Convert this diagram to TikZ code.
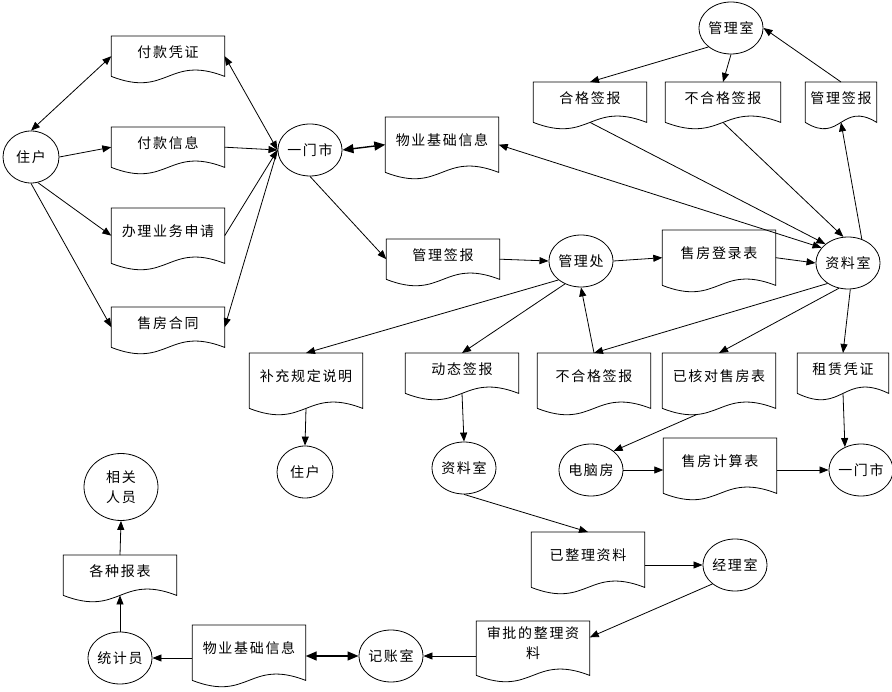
\documentclass[tikz,border=0pt]{standalone}
\usepackage{fontspec}
\setmainfont[LetterSpace=12]{Noto Sans CJK SC}
\usepackage{tikz}
\usetikzlibrary{arrows.meta,calc,shapes.geometric}

\begin{document}
\begin{tikzpicture}[x=1pt, y=-1pt,
  font=\fontsize{14}{20}\selectfont,
  proc/.style={ellipse, draw, line width=0.8pt, minimum width=56pt, minimum height=52pt, inner sep=0pt},
  docS/.style={minimum width=#1, inner sep=0pt, anchor=north, text height=21pt, text depth=19pt},
  docS/.default=113pt,
  docT/.style={minimum width=#1, inner sep=0pt, anchor=north, text height=28pt, text depth=27pt},
  docT/.default=113pt,
  docline/.style={line width=0.8pt},
  arr/.style={-{Triangle[length=9pt,width=7pt]}, line width=0.8pt},
  darr/.style={{Triangle[length=9pt,width=7pt]}-{Triangle[length=9pt,width=7pt]}, line width=0.8pt},
  bigarr/.style={{Triangle[length=11pt,width=9pt]}-{Triangle[length=11pt,width=9pt]}, line width=1.4pt}]
  \useasboundingbox (0,0) rectangle (892,692);

  % left column
  \node[proc] (zhuhu) at (31,157) {住户};
  \node[docS] (fkpz) at (168,36) {付款凭证};
  \node[docS] (fkxx) at (168,127) {付款信息};
  \node[docT] (blsq) at (168,208) {办理业务申请};
  \node[docS] (sfht) at (168,307) {售房合同};
  \node[proc] (ymshi) at (310,150) {一门市};
  \node[docT] (wyxx) at (442,117) {物业基础信息};

  % top right
  \node[proc] (glshi) at (731,28) {管理室};
  \node[docS] (hgqb) at (590,82) {合格签报};
  \node[docS=115pt] (bhqb) at (723,82) {不合格签报};
  \node[docS=71pt] (glqb) at (841,82) {管理签报};
  \node[docS] (glqb2) at (443,239) {管理签报};
  \node[proc] (glchu) at (581,261) {管理处};
  \node[docT] (sfdl) at (719,230) {售房登录表};
  \node[proc] (zlshi) at (848,263) {资料室};

  % middle row
  \node[docT] (bcsm) at (306,353) {补充规定说明};
  \node[docS] (dtqb) at (462,353) {动态签报};
  \node[docT] (bhqb2) at (594,353) {不合格签报};
  \node[docT] (yhsf) at (719,353) {已核对售房表};
  \node[docS=91pt] (zlpz) at (843,353) {租赁凭证};
  \node[proc] (zhuhu2) at (305,472) {住户};
  \node[proc] (zlshi2) at (464,468) {资料室};
  \node[proc] (dnf) at (591,470) {电脑房};
  \node[docT] (sfjs) at (720,438) {售房计算表};
  \node[proc] (ymshi2) at (861,470) {一门市};

  % bottom
  \node[docT] (yzzl) at (588,532) {已整理资料};
  \node[proc] (jlshi) at (735,565) {经理室};
  \node[docT, text width=113pt, align=center, text height=17pt, text depth=37pt] (spzl) at (533,621) {审批的整理资\\料};
  \node[proc] (jzshi) at (391,656) {记账室};
  \node[docT] (wyxx2) at (249,625) {物业基础信息};
  \node[proc] (tjy) at (120,658) {统计员};
  \node[docS] (gzbb) at (120,555) {各种报表};
  \node[proc, minimum width=74pt, minimum height=67pt, align=center] (xgry) at (121,487) {相关\\人员};

  % document outlines with wavy bottom
  \foreach \doc in {fkpz,fkxx,blsq,sfht,wyxx,hgqb,bhqb,glqb,glqb2,sfdl,bcsm,dtqb,bhqb2,yhsf,zlpz,sfjs,yzzl,spzl,wyxx2,gzbb}
    \draw[docline] (\doc.south west) -- (\doc.north west) -- (\doc.north east) -- (\doc.south east)
      .. controls ($(\doc.south)+(0,-22)$) and ($(\doc.south)+(0,22)$) .. (\doc.south west);

  \coordinate (yhsfw) at ($(yhsf.south)+(-22,6)$);
  \coordinate (spzle) at ($(spzl.north east)!0.3!(spzl.south east)$);

  % connectors
  \draw[darr] (zhuhu.north) -- (fkpz.west);
  \draw[arr] (zhuhu.east) -- (fkxx.west);
  \draw[arr] (zhuhu.-75) -- (blsq.west);
  \draw[arr] (zhuhu.south) -- (sfht.west);
  \draw[darr] (fkpz.east) -- (ymshi.west);
  \draw[arr] (fkxx.east) -- (ymshi.west);
  \draw[arr] (blsq.east) -- (ymshi.west);
  \draw[arr] (ymshi.west) -- (sfht.east);
  \draw[bigarr] (ymshi.east) -- (wyxx.west);
  \draw[arr] (ymshi.south) -- (glqb2.west);
  \draw[arr] (glqb2.east) -- (glchu.west);
  \draw[arr] (glchu.east) -- (sfdl.west);
  \draw[arr] (sfdl.east) -- (zlshi.west);
  \draw[darr] (zlshi.150) -- (wyxx.east);
  \draw[arr] (hgqb.south) -- (zlshi.140);
  \draw[arr] (bhqb.south) -- (zlshi.100);
  \draw[arr] (zlshi.60) -- (glqb.south);
  \draw[arr] (glqb.north) -- (glshi.east);
  \draw[arr] (glshi.-140) -- (hgqb.north);
  \draw[arr] (glshi.south) -- (bhqb.north);
  \draw[arr] (glchu.-140) -- (bcsm.north);
  \draw[arr] (glchu.-125) -- (dtqb.north);
  \draw[arr] (bhqb2.north) -- (glchu.south);
  \draw[arr] (zlshi.-135) -- (bhqb2.north);
  \draw[arr] (zlshi.-110) -- (yhsf.north);
  \draw[arr] (zlshi.-85) -- (zlpz.north);
  \draw[arr] (bcsm.south) -- (zhuhu2.north);
  \draw[arr] (dtqb.south) -- (zlshi2.north);
  \draw[arr] (yhsfw) -- (dnf.40);
  \draw[arr] (dnf.east) -- (sfjs.west |- dnf.east);
  \draw[arr] (sfjs.east |- ymshi2.west) -- (ymshi2.west);
  \draw[arr] (zlpz.south) -- (ymshi2.125);
  \draw[arr] (zlshi2.south) -- (yzzl.north);
  \draw[arr] (yzzl.east |- jlshi.west) -- (jlshi.west);
  \draw[arr] (jlshi.-140) -- (spzle);
  \draw[arr] (spzl.west |- jzshi.east) -- (jzshi.east);
  \draw[bigarr] (wyxx2.east |- jzshi.west) -- (jzshi.west);
  \draw[arr] (wyxx2.west |- tjy.east) -- (tjy.east);
  \draw[arr] (tjy.north) -- (gzbb.south);
  \draw[arr] (gzbb.north) -- (xgry.south);
\end{tikzpicture}
\end{document}
